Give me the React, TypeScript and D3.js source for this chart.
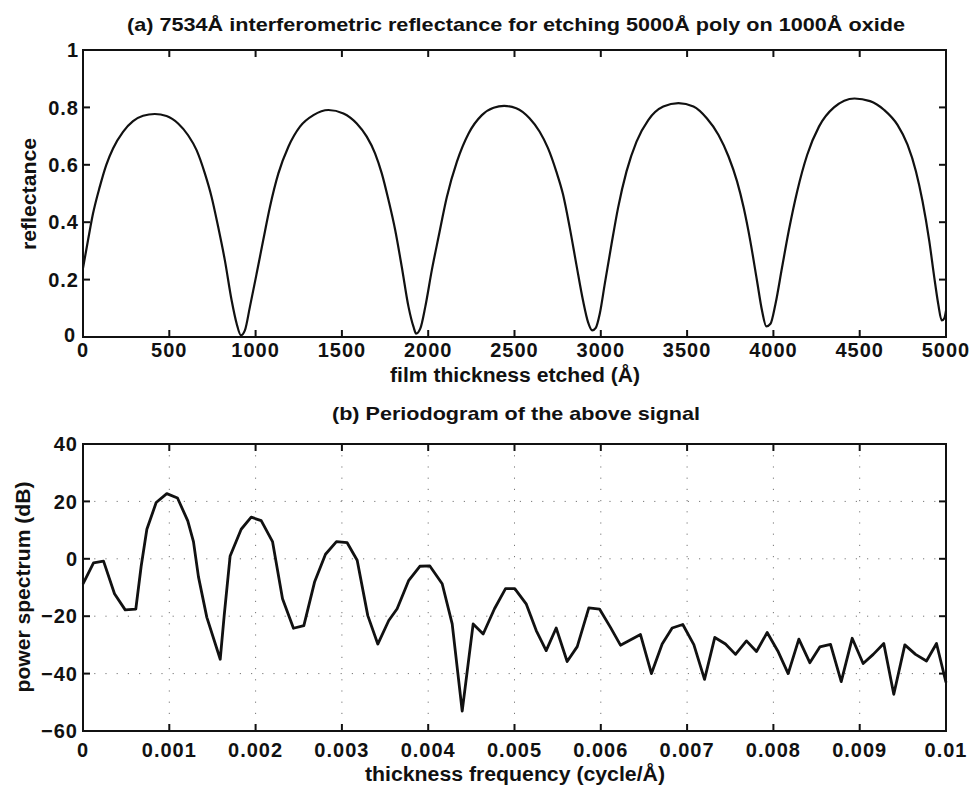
import React from "react";
import * as d3 from "d3";

// ---- (a) reflectance vs film thickness etched ----
const thickness = [0, 29, 58, 97, 135, 174, 232, 290, 348, 416, 484, 551, 609, 658, 706, 745, 783, 822, 861, 890, 915, 938, 967, 1006, 1044, 1083, 1132, 1190, 1257, 1335, 1422, 1509, 1586, 1644, 1692, 1731, 1770, 1809, 1847, 1886, 1915, 1930, 1954, 1983, 2021, 2060, 2108, 2166, 2234, 2311, 2379, 2440, 2510, 2587, 2645, 2694, 2742, 2781, 2820, 2858, 2897, 2926, 2950, 2971, 2994, 3023, 3062, 3100, 3149, 3207, 3275, 3362, 3450, 3537, 3614, 3682, 3740, 3789, 3828, 3866, 3905, 3934, 3959, 3983, 4012, 4050, 4089, 4138, 4196, 4264, 4351, 4470, 4560, 4642, 4719, 4777, 4826, 4864, 4903, 4932, 4955, 4975, 4990, 5000];
const reflectance = [0.24, 0.337, 0.43, 0.523, 0.6, 0.657, 0.715, 0.752, 0.771, 0.777, 0.77, 0.744, 0.703, 0.651, 0.57, 0.488, 0.384, 0.267, 0.128, 0.047, 0.006, 0.023, 0.105, 0.221, 0.337, 0.453, 0.57, 0.663, 0.733, 0.773, 0.791, 0.779, 0.744, 0.698, 0.64, 0.57, 0.477, 0.372, 0.244, 0.105, 0.035, 0.012, 0.029, 0.105, 0.233, 0.349, 0.488, 0.61, 0.709, 0.773, 0.799, 0.805, 0.797, 0.762, 0.716, 0.658, 0.577, 0.497, 0.381, 0.254, 0.127, 0.052, 0.023, 0.032, 0.081, 0.185, 0.323, 0.45, 0.577, 0.681, 0.756, 0.803, 0.815, 0.803, 0.762, 0.704, 0.629, 0.543, 0.45, 0.335, 0.196, 0.092, 0.037, 0.046, 0.115, 0.242, 0.37, 0.508, 0.635, 0.733, 0.8, 0.831, 0.822, 0.791, 0.739, 0.67, 0.577, 0.473, 0.335, 0.208, 0.115, 0.058, 0.065, 0.092];
const topXTicks = [0, 500, 1000, 1500, 2000, 2500, 3000, 3500, 4000, 4500, 5000];
const topYTicks = [0, 0.2, 0.4, 0.6, 0.8, 1];

// ---- (b) periodogram ----
const frequency = [0, 0.000122, 0.000238, 0.000365, 0.000489, 0.000612, 0.000674, 0.00074, 0.000848, 0.000971, 0.001095, 0.001214, 0.00128, 0.001338, 0.001435, 0.00159, 0.001636, 0.001705, 0.001833, 0.001949, 0.002065, 0.002196, 0.002312, 0.002439, 0.002559, 0.002683, 0.00281, 0.002937, 0.003061, 0.003177, 0.0033, 0.003416, 0.003543, 0.00364, 0.003775, 0.003903, 0.004019, 0.004162, 0.004278, 0.004394, 0.004521, 0.004637, 0.004768, 0.004896, 0.005003, 0.005135, 0.005252, 0.005367, 0.005483, 0.00561, 0.005727, 0.005861, 0.005985, 0.006112, 0.006228, 0.00646, 0.006587, 0.006711, 0.006827, 0.00695, 0.007078, 0.007202, 0.007321, 0.007445, 0.007561, 0.007688, 0.007804, 0.007928, 0.008051, 0.008171, 0.008295, 0.008422, 0.008538, 0.008662, 0.008786, 0.008913, 0.00904, 0.009157, 0.009279, 0.009395, 0.009523, 0.009647, 0.009774, 0.00989, 0.01];
const powerDb = [-8.7, -1.4, -0.8, -12.2, -17.8, -17.5, -2.6, 10.3, 19.6, 22.7, 21.2, 13.2, 6, -6.3, -20.4, -35, -19.8, 1.0, 10.3, 14.5, 13.3, 6, -13.9, -24.2, -23.3, -8.1, 1.6, 6, 5.6, -0.5, -19.8, -29.7, -21.5, -17.4, -7.5, -2.6, -2.5, -8.7, -22.7, -53.1, -22.7, -26.2, -17.4, -10.4, -10.4, -15.7, -25, -32, -24.1, -35.8, -30.6, -17.1, -17.5, -23.9, -30.1, -26.4, -40, -29.7, -24.1, -22.9, -29.9, -42, -27.4, -29.7, -33.3, -28.6, -32.3, -25.7, -32.1, -40, -28, -36.2, -30.7, -29.8, -42.8, -27.7, -36.5, -33.3, -29.5, -47.2, -30, -33.3, -35.6, -29.5, -43.1];
const botXTicks = [0, 0.001, 0.002, 0.003, 0.004, 0.005, 0.006, 0.007, 0.008, 0.009, 0.01];
const botXLabels = ["0", "0.001", "0.002", "0.003", "0.004", "0.005", "0.006", "0.007", "0.008", "0.009", "0.01"];
const botYTicks = [-60, -40, -20, 0, 20, 40];

const FONT = "'Liberation Sans', Arial, Helvetica, sans-serif";
const W = 974;
const H = 790;
const L = 83;
const R = 946;

export default function App() {
  // top panel
  const xa = d3.scaleLinear().domain([0, 5000]).range([L, R]);
  const ya = d3.scaleLinear().domain([0, 1]).range([337, 50]);
  const lineA = d3
    .line<number>()
    .x((_, i) => xa(thickness[i]))
    .y((d) => ya(d))
    .curve(d3.curveMonotoneX);

  // bottom panel
  const xb = d3.scaleLinear().domain([0, 0.01]).range([L, R]);
  const yb = d3.scaleLinear().domain([-60, 40]).range([731, 444]);
  const lineB = d3
    .line<number>()
    .x((_, i) => xb(frequency[i]))
    .y((d) => yb(d));

  const tickLen = 7;
  const fmtNeg = (v: number) => (v < 0 ? "\u2212" + Math.abs(v) : String(v));
  const labelStyle = { fontFamily: FONT, fontSize: 20, fontWeight: 700, fill: "#111" } as const;

  return (
    <svg width={W} height={H} style={{ position: "absolute", left: 0, top: 0, background: "#fff" }}>
      <rect x={0} y={0} width={W} height={H} fill="#fff" />

      {/* ===== Panel (a) ===== */}
      <text x={516} y={31} textAnchor="middle" textLength={778} lengthAdjust="spacingAndGlyphs" style={{ ...labelStyle, fontSize: 19 }}>
        (a) 7534Å interferometric reflectance for etching 5000Å poly on 1000Å oxide
      </text>
      {topXTicks.map((t) => (
        <g key={"ax" + t}>
          <line x1={xa(t)} x2={xa(t)} y1={ya(0)} y2={ya(0) - tickLen} stroke="#111" strokeWidth={2} />
          <line x1={xa(t)} x2={xa(t)} y1={ya(1)} y2={ya(1) + tickLen} stroke="#111" strokeWidth={2} />
          <text x={xa(t)} y={357} textAnchor="middle" style={labelStyle} letterSpacing={1}>
            {t}
          </text>
        </g>
      ))}
      {topYTicks.map((t) => (
        <g key={"ay" + t}>
          <line x1={L} x2={L + tickLen} y1={ya(t)} y2={ya(t)} stroke="#111" strokeWidth={2} />
          <line x1={R} x2={R - tickLen} y1={ya(t)} y2={ya(t)} stroke="#111" strokeWidth={2} />
          <text x={t === 0 ? 76 : 79} y={ya(t) - (t === 0 ? 2 : 0)} dy="0.36em" textAnchor="end" style={labelStyle} letterSpacing={1}>
            {t}
          </text>
        </g>
      ))}
      <path d={lineA(reflectance) || ""} fill="none" stroke="#111" strokeWidth={2.2} strokeLinejoin="round" />
      <rect x={L} y={50} width={R - L} height={287} fill="none" stroke="#111" strokeWidth={2} />
      <text x={515} y={382} textAnchor="middle" textLength={250} lengthAdjust="spacingAndGlyphs" style={labelStyle}>
        film thickness etched (Å)
      </text>
      <text transform="translate(36,194) rotate(-90)" textAnchor="middle" textLength={112} lengthAdjust="spacingAndGlyphs" style={labelStyle}>
        reflectance
      </text>

      {/* ===== Panel (b) ===== */}
      <text x={516} y={420} textAnchor="middle" textLength={368} lengthAdjust="spacingAndGlyphs" style={{ ...labelStyle, fontSize: 19 }}>
        (b) Periodogram of the above signal
      </text>
      {botXTicks.slice(1, -1).map((t) => (
        <line key={"gx" + t} x1={xb(t)} x2={xb(t)} y1={444} y2={731} stroke="#777" strokeWidth={1} strokeDasharray="1.2,10" />
      ))}
      {botYTicks.slice(1, -1).map((t) => (
        <line key={"gy" + t} x1={L} x2={R} y1={yb(t)} y2={yb(t)} stroke="#777" strokeWidth={1} strokeDasharray="1.2,10" />
      ))}
      {botXTicks.map((t, i) => (
        <g key={"bx" + t}>
          <line x1={xb(t)} x2={xb(t)} y1={yb(-60)} y2={yb(-60) - tickLen} stroke="#111" strokeWidth={2} />
          <line x1={xb(t)} x2={xb(t)} y1={yb(40)} y2={yb(40) + tickLen} stroke="#111" strokeWidth={2} />
          <text x={xb(t)} y={757} textAnchor="middle" style={labelStyle} letterSpacing={1}>
            {botXLabels[i]}
          </text>
        </g>
      ))}
      {botYTicks.map((t) => (
        <g key={"by" + t}>
          <line x1={L} x2={L + tickLen} y1={yb(t)} y2={yb(t)} stroke="#111" strokeWidth={2} />
          <line x1={R} x2={R - tickLen} y1={yb(t)} y2={yb(t)} stroke="#111" strokeWidth={2} />
          <text x={78} y={yb(t)} dy="0.36em" textAnchor="end" style={labelStyle} letterSpacing={1}>
            {fmtNeg(t)}
          </text>
        </g>
      ))}
      <path d={lineB(powerDb) || ""} fill="none" stroke="#111" strokeWidth={2.8} strokeLinejoin="round" />
      <rect x={L} y={444} width={R - L} height={287} fill="none" stroke="#111" strokeWidth={2} />
      <text x={515} y={781} textAnchor="middle" textLength={300} lengthAdjust="spacingAndGlyphs" style={labelStyle}>
        thickness frequency (cycle/Å)
      </text>
      <text transform="translate(30,587) rotate(-90)" textAnchor="middle" textLength={211} lengthAdjust="spacingAndGlyphs" style={labelStyle}>
        power spectrum (dB)
      </text>
    </svg>
  );
}
